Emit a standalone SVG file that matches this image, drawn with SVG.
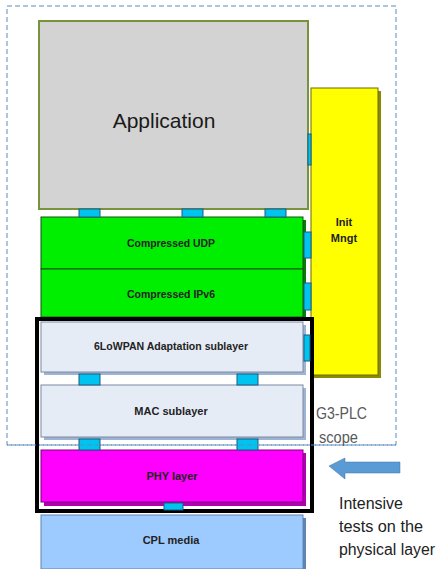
<svg xmlns="http://www.w3.org/2000/svg" width="436" height="569" viewBox="0 0 436 569">
<style>
.lbl{font-family:"Liberation Sans",Arial,sans-serif;font-weight:bold;font-size:11px;fill:#222;text-anchor:middle}
.side{font-family:"Liberation Sans",Arial,sans-serif;font-size:16px}
.conn{fill:#00c3f0;stroke:#1f5a80;stroke-width:1}
</style>
<rect width="436" height="569" fill="#fff"/>
<g id="scope">
<rect x="7" y="6" width="389" height="439" fill="none" stroke="#5a8bbd" stroke-width="1" stroke-dasharray="5,3"/>
</g>
<g id="init-mngt">
<rect x="314" y="91" width="67" height="287" fill="#8a8a00"/>
<rect x="311" y="88" width="67" height="287" fill="#ffff00" stroke="#6b6b00" stroke-width="1"/>
<text class="lbl" x="344" y="226">Init</text>
<text class="lbl" x="344" y="242">Mngt</text>
</g>
<g id="application">
<rect x="39" y="21" width="269" height="188" fill="#d3d3d3" stroke="#77933c" stroke-width="2"/>
<text x="164" y="128" font-family="'Liberation Sans',Arial,sans-serif" font-size="21" fill="#1a1a1a" text-anchor="middle">Application</text>
</g>
<g id="compressed-udp">
<rect x="44" y="220" width="262" height="52" fill="#0a7a0a"/>
<rect x="41" y="217" width="262" height="52" fill="#00ee00" stroke="#145214" stroke-width="1"/>
<text class="lbl" x="171" y="247" textLength="88" lengthAdjust="spacingAndGlyphs">Compressed UDP</text>
</g>
<g id="compressed-ipv6">
<rect x="44" y="272" width="262" height="48" fill="#0a7a0a"/>
<rect x="41" y="269" width="262" height="48" fill="#00ee00" stroke="#145214" stroke-width="1"/>
<text class="lbl" x="171" y="298" textLength="88" lengthAdjust="spacingAndGlyphs">Compressed IPv6</text>
</g>
<g id="6lowpan">
<rect x="44" y="325" width="262" height="50" fill="#9fb3d3"/>
<rect x="41" y="322" width="262" height="50" fill="#e6ecf6" stroke="#7a8aa3" stroke-width="1"/>
<text class="lbl" x="171" y="350" fill="#333" textLength="154" lengthAdjust="spacingAndGlyphs">6LoWPAN Adaptation sublayer</text>
</g>
<g id="mac">
<rect x="44" y="388" width="262" height="52" fill="#9fb3d3"/>
<rect x="41" y="385" width="262" height="52" fill="#e6ecf6" stroke="#7a8aa3" stroke-width="1"/>
<text class="lbl" x="171" y="415">MAC sublayer</text>
</g>
<g id="phy">
<rect x="44" y="453" width="262" height="53" fill="#b000b0"/>
<rect x="41" y="450" width="262" height="52" fill="#ff00ff" stroke="#7a007a" stroke-width="1"/>
<text class="lbl" x="172" y="480" fill="#3a003a">PHY layer</text>
</g>
<g id="cpl-media">
<rect x="44" y="518" width="262" height="54" fill="#5f85b0"/>
<rect x="41" y="515" width="262" height="54" fill="#9dcbff" stroke="#5f85b0" stroke-width="1"/>
<text class="lbl" x="171" y="544" fill="#2a3a4a">CPL media</text>
</g>
<g id="test-boundary">
<rect x="37" y="319" width="275" height="192" fill="none" stroke="#000" stroke-width="4"/>
</g>
<g id="connectors">
<rect class="conn" x="79" y="209" width="21" height="8"/>
<rect class="conn" x="182" y="209" width="21" height="8"/>
<rect class="conn" x="265" y="209" width="21" height="8"/>
<rect class="conn" x="308" y="134" width="3" height="31"/>
<rect class="conn" x="304" y="232" width="7" height="26"/>
<rect class="conn" x="304" y="283" width="7" height="27"/>
<rect class="conn" x="304" y="335" width="6" height="26"/>
<rect class="conn" x="79" y="374" width="21" height="11"/>
<rect class="conn" x="237" y="374" width="21" height="11"/>
<rect class="conn" x="79" y="439" width="21" height="11"/>
<rect class="conn" x="237" y="439" width="21" height="11"/>
<rect class="conn" x="164" y="503" width="19" height="7"/>
</g>
<g id="scope-line">
<line x1="7" y1="445" x2="396" y2="445" stroke="#5a8bbd" stroke-width="1" stroke-dasharray="5,3"/>
</g>
<g id="labels">
<text class="side" x="316" y="419" fill="#595959" textLength="51" lengthAdjust="spacingAndGlyphs">G3-PLC</text>
<text class="side" x="319" y="443" fill="#595959" textLength="39" lengthAdjust="spacingAndGlyphs">scope</text>
<text class="side" x="339" y="509" fill="#222" textLength="64" lengthAdjust="spacingAndGlyphs">Intensive</text>
<text class="side" x="339" y="532" fill="#222" textLength="84" lengthAdjust="spacingAndGlyphs">tests on the</text>
<text class="side" x="339" y="555" fill="#222" textLength="96" lengthAdjust="spacingAndGlyphs">physical layer</text>
</g>
<g id="arrow">
<polygon points="329,466 345,458 345,462 400,462 400,473 345,473 345,479" fill="#5b9bd5" stroke="#41719c" stroke-width="0.5"/>
</g>
</svg>
